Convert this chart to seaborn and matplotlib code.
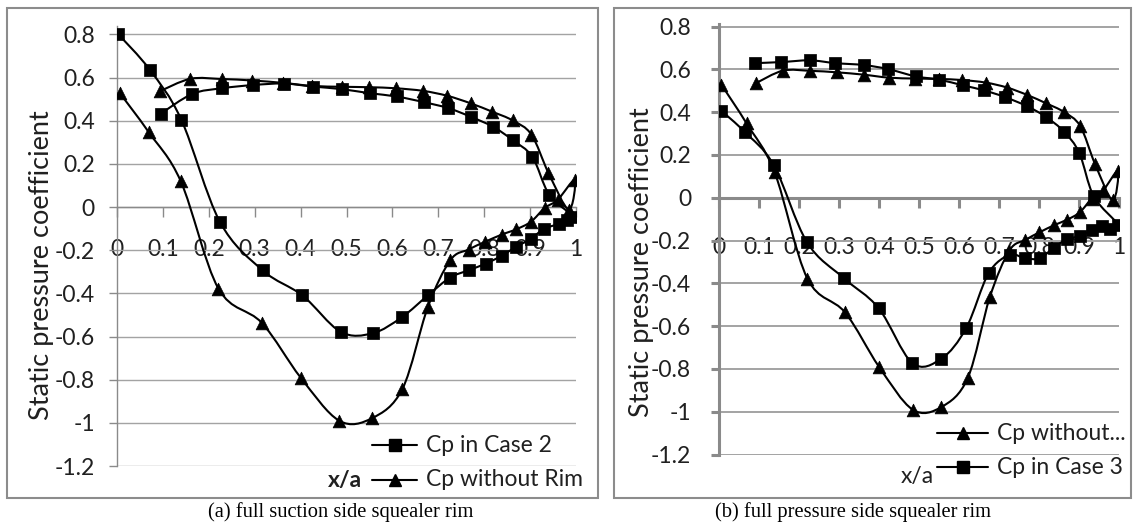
import numpy as np
import matplotlib
matplotlib.use("Agg")
import matplotlib.pyplot as plt
import seaborn as sns
from matplotlib.path import Path
from matplotlib.patches import PathPatch, Rectangle
from matplotlib.lines import Line2D

# ---- data: static pressure coefficient around the blade tip (pressure side then suction side)
case2_x = [0.003, 0.071, 0.140, 0.224, 0.317, 0.404, 0.487, 0.557, 0.621, 0.678, 0.725, 0.766,
           0.804, 0.838, 0.869, 0.901, 0.930, 0.963, 0.981, 0.996,
           0.942, 0.905, 0.862, 0.820, 0.772, 0.722, 0.668, 0.609, 0.551, 0.490, 0.427, 0.363,
           0.296, 0.228, 0.164, 0.095]
case2_cp = [0.800, 0.637, 0.405, -0.068, -0.293, -0.410, -0.578, -0.585, -0.510, -0.408, -0.328, -0.293,
            -0.262, -0.226, -0.185, -0.148, -0.102, -0.078, -0.062, -0.047,
            0.056, 0.232, 0.310, 0.371, 0.417, 0.458, 0.486, 0.512, 0.527, 0.546, 0.558, 0.572,
            0.565, 0.550, 0.524, 0.432]

norim_x = [0.006, 0.069, 0.139, 0.221, 0.315, 0.400, 0.484, 0.556, 0.622, 0.677, 0.726, 0.766,
           0.801, 0.838, 0.870, 0.902, 0.932, 0.960, 0.997, 0.984,
           0.940, 0.903, 0.862, 0.818, 0.771, 0.720, 0.667, 0.608, 0.550, 0.490, 0.425, 0.362,
           0.295, 0.228, 0.160, 0.093]
norim_cp = [0.528, 0.347, 0.119, -0.378, -0.536, -0.790, -0.990, -0.978, -0.842, -0.465, -0.247, -0.197,
            -0.162, -0.128, -0.103, -0.068, -0.004, 0.033, 0.125, -0.012,
            0.158, 0.335, 0.401, 0.441, 0.480, 0.515, 0.538, 0.550, 0.555, 0.557, 0.561, 0.575,
            0.586, 0.593, 0.594, 0.536]

case3_x = [0.006, 0.064, 0.137, 0.220, 0.312, 0.399, 0.483, 0.556, 0.618, 0.674, 0.727, 0.764,
           0.802, 0.837, 0.870, 0.903, 0.933, 0.958, 0.978, 0.998,
           0.937, 0.901, 0.863, 0.817, 0.771, 0.714, 0.662, 0.610, 0.550, 0.492, 0.423, 0.362,
           0.291, 0.227, 0.156, 0.091]
case3_cp = [0.406, 0.308, 0.152, -0.208, -0.376, -0.516, -0.772, -0.752, -0.609, -0.353, -0.267, -0.283,
            -0.283, -0.233, -0.194, -0.179, -0.151, -0.132, -0.147, -0.127,
            0.006, 0.208, 0.308, 0.378, 0.427, 0.471, 0.502, 0.525, 0.552, 0.567, 0.601, 0.620,
            0.629, 0.642, 0.634, 0.629]

y_ticks = [-1.2, -1.0, -0.8, -0.6, -0.4, -0.2, 0.0, 0.2, 0.4, 0.6, 0.8]
y_labels = ["-1.2", "-1", "-0.8", "-0.6", "-0.4", "-0.2", "0", "0.2", "0.4", "0.6", "0.8"]
x_ticks = [0.0, 0.1, 0.2, 0.3, 0.4, 0.5, 0.6, 0.7, 0.8, 0.9, 1.0]
x_labels = ["0", "0.1", "0.2", "0.3", "0.4", "0.5", "0.6", "0.7", "0.8", "0.9", "1"]

y_title = "Static pressure coefficient"
x_title = "x/a"
caption_a = "(a) full suction side squealer rim"
caption_b = "(b) full pressure side squealer rim"

sns.set_style("white")
plt.rcParams["font.family"] = ["Lato", "DejaVu Sans"]

W, H = 1133, 526
fig = plt.figure(figsize=(W / 100, H / 100), dpi=100)
fig.patch.set_facecolor("white")


def fx(px):
    return px / W


def fy(py):
    return 1 - py / H


TXT = "#202020"
GRID = "#a3a3a3"
AXC = "#8a8a8a"
FS = 16.5


def smooth_path(xs, ys):
    """Cubic Bezier through the points (Catmull-Rom style tangents)."""
    pts = np.column_stack([xs, ys]).astype(float)
    n = len(pts)
    verts = [pts[0]]
    codes = [Path.MOVETO]
    for i in range(n - 1):
        p0 = pts[max(i - 1, 0)]
        p1 = pts[i]
        p2 = pts[i + 1]
        p3 = pts[min(i + 2, n - 1)]
        c1 = p1 + (p2 - p0) / 6.0
        c2 = p2 - (p3 - p1) / 6.0
        verts += [c1, c2, p2]
        codes += [Path.CURVE4] * 3
    return Path(verts, codes)


def draw_series(ax, xs, ys, marker, size):
    ax.add_patch(PathPatch(smooth_path(xs, ys), fill=False, edgecolor="black",
                           lw=1.5, zorder=3, capstyle="round", joinstyle="round"))
    sns.scatterplot(x=xs, y=ys, marker=marker, s=size, color="black", edgecolor="black",
                    linewidth=0.5, ax=ax, zorder=4, legend=False)


def style_axes(ax, ylim, axis_lw, grid_lw, xpad, ypad):
    ax.set_xlim(0, 1)
    ax.set_ylim(*ylim)
    for s in ("top", "right"):
        ax.spines[s].set_visible(False)
    ax.spines["bottom"].set_position(("data", 0))
    ax.spines["bottom"].set_color(AXC)
    ax.spines["bottom"].set_linewidth(axis_lw)
    ax.spines["left"].set_color(AXC)
    ax.spines["left"].set_linewidth(axis_lw)
    ax.set_yticks(y_ticks)
    ax.set_yticklabels(y_labels)
    ax.set_xticks(x_ticks)
    ax.set_xticklabels(x_labels)
    ax.tick_params(axis="y", direction="out", length=6, width=axis_lw, color=AXC,
                   labelsize=FS, labelcolor=TXT, pad=ypad, left=True)
    ax.tick_params(axis="x", direction="out", length=7, width=axis_lw, color=AXC,
                   labelsize=FS, labelcolor=TXT, pad=xpad, bottom=True)
    ax.yaxis.grid(True, color=GRID, lw=grid_lw, zorder=0)
    ax.xaxis.grid(False)
    ax.set_axisbelow(True)
    ax.set_xlabel("")
    ax.set_ylabel("")
    ax.patch.set_alpha(0)


# ---- panel frames
fig.add_artist(Rectangle((fx(7), fy(498)), fx(598) - fx(7), fy(8) - fy(498),
                         transform=fig.transFigure, fill=False, edgecolor="#8c8c8c", lw=1.5))
fig.add_artist(Rectangle((fx(614), fy(498)), fx(1131) - fx(614), fy(8) - fy(498),
                         transform=fig.transFigure, fill=False, edgecolor="#8c8c8c", lw=1.5))

# ---- left panel: suction side rim
ax1 = fig.add_axes([fx(117), fy(466), fx(576) - fx(117), fy(25.7) - fy(466)])
style_axes(ax1, (-1.2, 0.84), 1.0, 1.0, xpad=16, ypad=10)
draw_series(ax1, case2_x, case2_cp, "s", 76)
draw_series(ax1, norim_x, norim_cp, "^", 84)

# ---- right panel: pressure side rim
ax2 = fig.add_axes([fx(719), fy(454.5), fx(1119) - fx(719), fy(24.4) - fy(454.5)])
style_axes(ax2, (-1.2, 0.81), 2.2, 1.4, xpad=21, ypad=14)
draw_series(ax2, norim_x, norim_cp, "^", 84)
draw_series(ax2, case3_x, case3_cp, "s", 76)

# ---- axis titles
fig.text(fx(42), fy(265), y_title, rotation=90, ha="center", va="center",
         fontsize=19.5, color=TXT)
fig.text(fx(642), fy(262), y_title, rotation=90, ha="center", va="center",
         fontsize=19.5, color=TXT)
fig.text(fx(345), fy(480), x_title, ha="center", va="center", fontsize=FS,
         fontweight="bold", color=TXT)
fig.text(fx(917), fy(477), x_title, ha="center", va="center", fontsize=FS, color=TXT)


# ---- legends
def legend_row(x0, x1, y, marker, msize, label):
    fig.add_artist(Line2D([fx(x0), fx(x1)], [fy(y), fy(y)], transform=fig.transFigure,
                          color="black", lw=1.5))
    fig.add_artist(Line2D([fx((x0 + x1) / 2)], [fy(y)], transform=fig.transFigure,
                          marker=marker, markersize=msize, color="black", lw=0))
    fig.text(fx(x1 + 9), fy(y), label, ha="left", va="center", fontsize=FS, color=TXT)


legend_row(372, 417, 445, "s", 8.5, "Cp in Case 2")
legend_row(372, 417, 480, "^", 9, "Cp without Rim")
legend_row(937, 988, 433, "^", 9, "Cp without...")
legend_row(937, 988, 467, "s", 8.5, "Cp in Case 3")

# ---- captions
fig.text(fx(341), fy(512), caption_a, ha="center", va="center", fontsize=14.8,
         family=["Liberation Serif", "DejaVu Serif"], color="black")
fig.text(fx(853), fy(512), caption_b, ha="center", va="center", fontsize=14.8,
         family=["Liberation Serif", "DejaVu Serif"], color="black")

fig.savefig("out.png", dpi=100, facecolor="white")
